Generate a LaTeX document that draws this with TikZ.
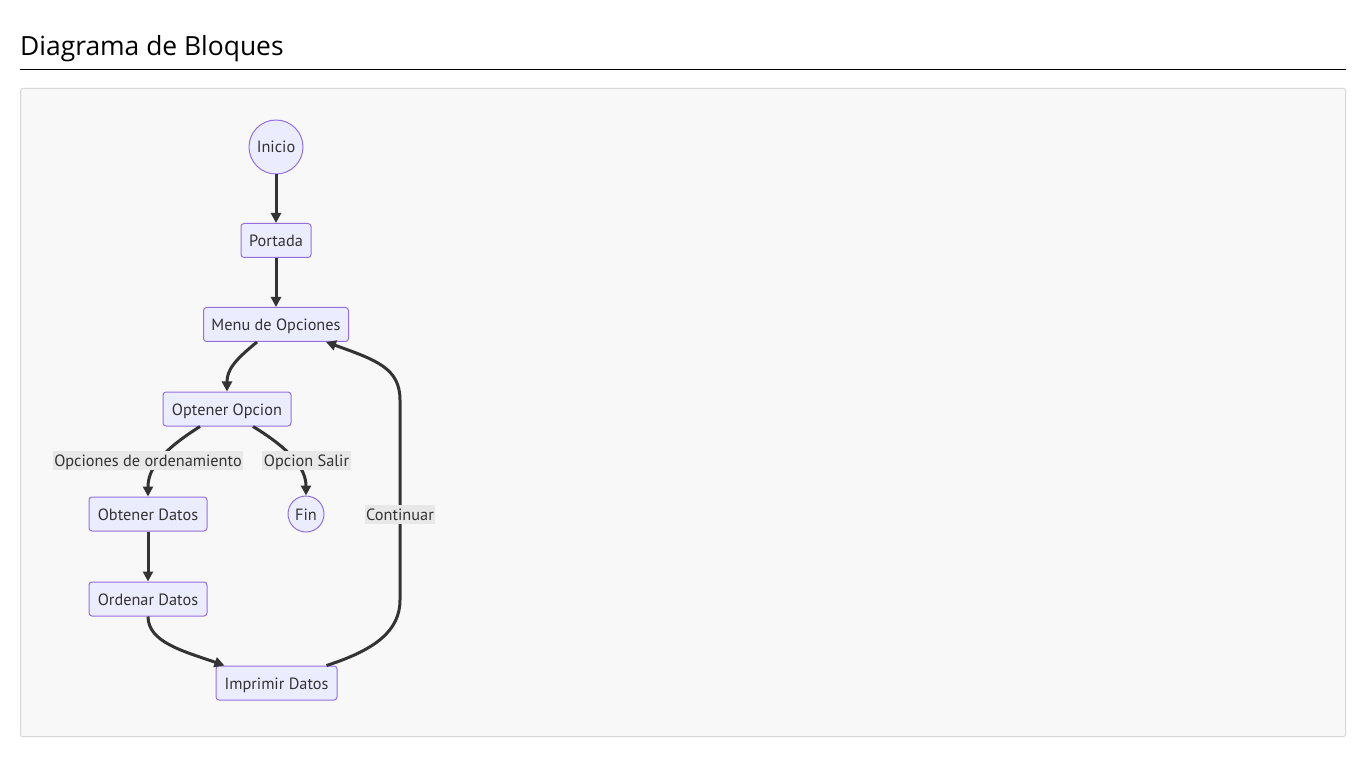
\documentclass[tikz,border=0pt]{standalone}
\usepackage{fontspec}
\setmainfont{PT Sans}
\newfontfamily\titlefont{Open Sans}
\usetikzlibrary{arrows.meta,calc}
\definecolor{nodefill}{HTML}{ECECFF}
\definecolor{nodeline}{HTML}{9370DB}
\definecolor{edgecol}{HTML}{333333}
\definecolor{panelbg}{HTML}{F8F8F8}
\definecolor{panelline}{HTML}{D8D8D8}
\definecolor{labelbg}{HTML}{E8E8E8}
\definecolor{txt}{HTML}{333333}
\tikzset{
  box/.style={draw=nodeline, fill=nodefill, line width=1pt, rounded corners=3pt, minimum height=34pt, inner xsep=7pt, text height=15pt, text depth=3pt, text=txt, font=\fontsize{16.3}{18}\selectfont},
  circ/.style={draw=nodeline, fill=nodefill, line width=1pt, circle, inner sep=0pt, text height=15pt, text depth=3pt, text=txt, font=\fontsize{16.3}{18}\selectfont},
  edge/.style={draw=edgecol, line width=3pt, -{Triangle[length=10pt,width=10pt]}},
  elabel/.style={fill=labelbg, inner sep=1.5pt, text height=14pt, text depth=2pt, text=txt, font=\fontsize{16.3}{18}\selectfont}
}
\begin{document}
\begin{tikzpicture}[x=1pt,y=-1pt]
\useasboundingbox (0,0) rectangle (1366,759);
\fill[white] (0,0) rectangle (1366,759);
\node[anchor=west, inner sep=0pt, font=\titlefont\fontsize{26.4}{30}\selectfont] (title) at (20,49) {Diagrama de Bloques};
\draw[line width=1pt] (20,69.5) coordinate (r1) -- (1346,69.5) coordinate (r2);
\draw[panelline, fill=panelbg, line width=1pt, rounded corners=2pt] (20.5,88.5) rectangle (1345.5,736.5);

\node[circ, minimum size=54pt] (inicio) at (276,147) {Inicio};
\node[box, minimum width=70pt] (portada) at (276,240.5) {Portada};
\node[box, minimum width=145pt] (menu) at (276,324.5) {Menu de Opciones};
\node[box, minimum width=128pt] (opt) at (227,409) {Optener Opcion};
\node[box, minimum width=118pt] (obt) at (148,514) {Obtener Datos};
\node[circ, minimum size=36pt] (fin) at (306,514) {Fin};
\node[box, minimum width=118pt] (ord) at (148,599) {Ordenar Datos};
\node[box, minimum width=121pt] (imp) at (276.5,683) {Imprimir Datos};

\draw[edge] (inicio) -- (portada);
\draw[edge] (portada) -- (menu);
\draw[edge] ($(menu.south)+(-19,0)$) .. controls +(-22,18) and +(0,-22) .. (opt.north);
\draw[edge] ($(opt.south)+(-27,0)$) .. controls +(-38,24) and +(0,-28) .. (obt.north);
\draw[edge] ($(opt.south)+(26,0)$) .. controls +(36,22) and +(0,-28) .. (fin.north);
\draw[edge] (obt) -- (ord);
\draw[edge] (ord.south) .. controls +(0,26) and +(-40,-14) .. ($(imp.north)+(-52,0)$);
\draw[edge] ($(imp.north)+(50,0)$) .. controls +(50,-16) and +(0,30) .. (400,600) coordinate (c1)
  -- (400,400) coordinate (c2) .. controls +(0,-32) and +(50,18) .. ($(menu.south)+(50,0)$);

\node[elabel] (l1) at (148,460.5) {Opciones de ordenamiento};
\node[elabel] (l2) at (306.5,460.5) {Opcion Salir};
\node[elabel] (l3) at (400,514) {Continuar};
\end{tikzpicture}
\end{document}
